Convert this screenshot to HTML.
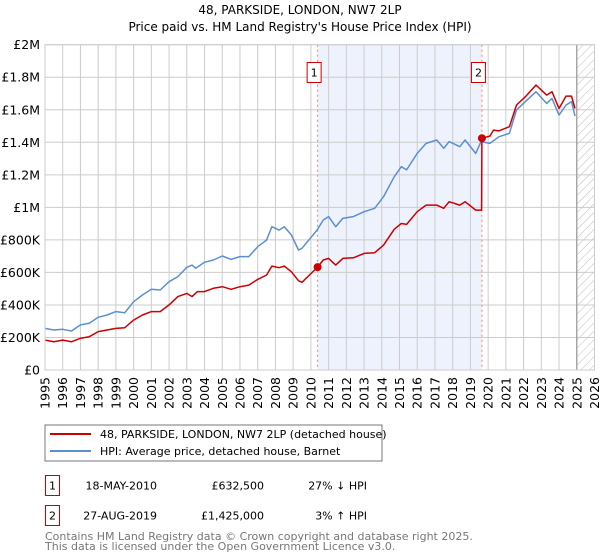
<!DOCTYPE html>
<html><head><meta charset="utf-8"><style>
body{margin:0;background:#fff;font-family:"DejaVu Sans","Liberation Sans",sans-serif;}
#wrap{position:relative;width:600px;height:560px;overflow:hidden}
svg text{font-family:"DejaVu Sans","Liberation Sans",sans-serif;}
</style></head><body><div id="wrap">
<svg id="svg" width="600" height="560" style="position:absolute;left:0;top:0">
<defs><pattern id="hatch" width="6" height="6" patternUnits="userSpaceOnUse" patternTransform="rotate(45)"><line x1="0" y1="0" x2="0" y2="6" stroke="#bbb" stroke-width="1"/></pattern></defs>
<text x="300" y="14" text-anchor="middle" font-size="12">48, PARKSIDE, LONDON, NW7 2LP</text>
<text x="300" y="31" text-anchor="middle" font-size="12">Price paid vs. HM Land Registry's House Price Index (HPI)</text>
<g id="plot"></g>
<rect x="45" y="425" width="337" height="36" fill="#fff" stroke="#777"/>
<line x1="50" y1="434" x2="91" y2="434" stroke="#cc0000" stroke-width="2"/>
<text x="100" y="438" font-size="11">48, PARKSIDE, LONDON, NW7 2LP (detached house)</text>
<line x1="50" y1="451" x2="91" y2="451" stroke="#5b8fd4" stroke-width="2"/>
<text x="100" y="455" font-size="11">HPI: Average price, detached house, Barnet</text>
<rect x="45.5" y="475.5" width="14" height="20" fill="#fff" stroke="#cc0000"/>
<text x="52.5" y="489.5" text-anchor="middle" font-size="11">1</text>
<text x="157" y="489.5" text-anchor="end" font-size="11">18-MAY-2010</text>
<text x="264" y="489.5" text-anchor="end" font-size="11">£632,500</text>
<text x="367" y="489.5" text-anchor="end" font-size="11">27% ↓ HPI</text>
<rect x="45.5" y="505.5" width="14" height="20" fill="#fff" stroke="#cc0000"/>
<text x="52.5" y="519.5" text-anchor="middle" font-size="11">2</text>
<text x="157" y="519.5" text-anchor="end" font-size="11">27-AUG-2019</text>
<text x="264" y="519.5" text-anchor="end" font-size="11">£1,425,000</text>
<text x="367" y="519.5" text-anchor="end" font-size="11">3% ↑ HPI</text>
<text x="45" y="540" font-size="11" fill="#777">Contains HM Land Registry data © Crown copyright and database right 2025.</text>
<text x="45" y="550" font-size="11" fill="#777">This data is licensed under the Open Government Licence v3.0.</text>
</svg></div>
<script>
const hpiYears=[1995,1995.5,1996,1996.5,1997,1997.5,1998,1998.5,1999,1999.5,2000,2000.5,2001,2001.5,2002,2002.5,2003,2003.3,2003.5,2004,2004.5,2005,2005.5,2006,2006.5,2007,2007.5,2007.8,2008.2,2008.5,2008.9,2009.3,2009.5,2010.35,2010.7,2011,2011.4,2011.8,2012.4,2013,2013.6,2014.1,2014.7,2015.1,2015.4,2016,2016.5,2017.1,2017.5,2017.8,2018.4,2018.7,2019.3,2019.6,2020.1,2020.6,2021.2,2021.6,2022.1,2022.7,2023.3,2023.6,2024,2024.4,2024.7,2024.9];
const hpiValues=[256,246,250,240,277,287,324,338,359,352,420,461,496,492,543,574,631,645,625,662,676,701,680,697,697,758,799,881,860,881,830,738,748,861,922,943,881,932,943,973,994,1066,1188,1250,1230,1332,1393,1414,1363,1404,1373,1414,1332,1404,1393,1434,1455,1598,1650,1711,1639,1670,1567,1629,1650,1561];
const priceYears=[1995,1995.5,1996,1996.5,1997,1997.5,1998,1998.5,1999,1999.5,2000,2000.5,2001,2001.5,2002,2002.5,2003,2003.3,2003.6,2004,2004.5,2005,2005.5,2006,2006.5,2007,2007.5,2007.8,2008.2,2008.5,2008.9,2009.3,2009.5,2010.38,2010.7,2011,2011.4,2011.8,2012.4,2013,2013.6,2014.1,2014.7,2015.1,2015.4,2016,2016.5,2017.1,2017.5,2017.8,2018.4,2018.7,2019.3,2019.63,2019.65,2020.1,2020.3,2020.6,2021.2,2021.6,2022.1,2022.7,2023.3,2023.6,2024,2024.4,2024.7,2024.9];
const priceValues=[184,174,184,174,195,205,236,246,256,260,307,338,359,359,400,451,471,451,482,482,502,512,496,512,522,557,584,639,629,639,604,549,539,632.5,676,686,645,686,690,717,721,768,865,901,895,973,1014,1014,994,1035,1014,1035,983,983,1425,1438,1475,1470,1496,1629,1680,1752,1690,1711,1608,1684,1684,1608];
const saleYears=[2010.38,2019.65];
const saleValues=[632.5,1425];
const saleLabels=["1","2"];
const yTicks=[0,200,400,600,800,1000,1200,1400,1600,1800,2000];
const yTickLabels=["£0","£200K","£400K","£600K","£800K","£1M","£1.2M","£1.4M","£1.6M","£1.8M","£2M"];
const xTicks=[1995,1996,1997,1998,1999,2000,2001,2002,2003,2004,2005,2006,2007,2008,2009,2010,2011,2012,2013,2014,2015,2016,2017,2018,2019,2020,2021,2022,2023,2024,2025,2026];

const X0=45,X1=594.5,Y0=370,Y1=44.7,YR0=1995,YR1=2026;
const xs=y=>X0+(y-YR0)/(YR1-YR0)*(X1-X0);
const ys=v=>Y0-v/2000*(Y0-Y1);
const NS="http://www.w3.org/2000/svg";
const g=document.getElementById('plot');
function mk(t,a){const e=document.createElementNS(NS,t);for(const k in a)e.setAttribute(k,a[k]);g.appendChild(e);return e;}
let e;
e=mk('rect',{x:xs(saleYears[0]),y:Y1,width:xs(saleYears[1])-xs(saleYears[0]),height:Y0-Y1,fill:'#eef2fc'});


e=mk('rect',{x:xs(2025),y:Y1,width:X1-xs(2025),height:Y0-Y1,fill:'url(#hatch)'});


yTicks.forEach((v,i)=>{
 e=mk('line',{x1:X0,x2:X1,y1:ys(v),y2:ys(v),stroke:'#ccc','stroke-width':1});
 
 
 e=mk('text',{x:40,y:ys(v)+4.5,'text-anchor':'end','font-size':12.5});
 e.textContent=yTickLabels[i];
 
 
});
xTicks.forEach(yr=>{
 e=mk('line',{x1:xs(yr),x2:xs(yr),y1:Y1,y2:Y0,stroke:'#ccc','stroke-width':1});
 
 
 e=mk('text',{x:0,y:0,'text-anchor':'end','font-size':12.5,transform:`translate(${xs(yr)+4.5},${Y0+7}) rotate(-90)`});
 e.textContent=yr;
 
 
});
e=mk('line',{x1:xs(2025),x2:xs(2025),y1:Y1,y2:Y0,stroke:'#999','stroke-width':1.2});


saleYears.forEach((yr,i)=>{
 e=mk('line',{x1:xs(yr),x2:xs(yr),y1:Y1,y2:Y0,stroke:'#f08080','stroke-width':1,'stroke-dasharray':'2,3'});
 
 
});
const path=(xa,va)=>xa.map((y,i)=>(i?'L':'M')+xs(y).toFixed(1)+','+ys(va[i]).toFixed(1)).join('');
e=mk('path',{d:path(hpiYears,hpiValues),fill:'none',stroke:'#5b8fd4','stroke-width':1.5,'stroke-linejoin':'round'});


e=mk('path',{d:path(priceYears,priceValues),fill:'none',stroke:'#cc0000','stroke-width':1.5,'stroke-linejoin':'round'});


saleYears.forEach((yr,i)=>{
 e=mk('circle',{cx:xs(yr),cy:ys(saleValues[i]),r:4,fill:'#cc0000'});
 
 
 e=mk('rect',{x:xs(yr)-10.5,y:62.5,width:14,height:20,fill:'#fff',stroke:'#cc0000'});
 
 
 e=mk('text',{x:xs(yr)-3.5,y:76.5,'text-anchor':'middle','font-size':11});
 e.textContent=saleLabels[i];
 
 
});
e=mk('rect',{x:X0,y:Y1,width:X1-X0,height:Y0-Y1,fill:'none',stroke:'#ccc'});


</script></body></html>
